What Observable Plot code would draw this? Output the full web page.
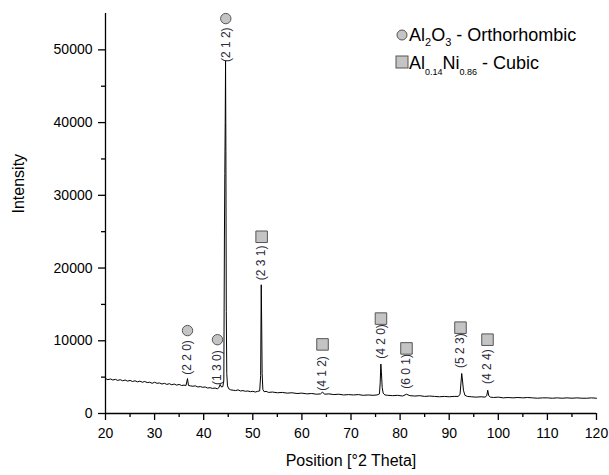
<!DOCTYPE html>
<html>
<head>
<meta charset="utf-8">
<script src="https://cdn.jsdelivr.net/npm/d3@7"></script>
<script src="https://cdn.jsdelivr.net/npm/@observablehq/plot@0.6"></script>
<style>
  body { margin: 0; background: #fff; }
  #chart { position: relative; width: 609px; height: 475px; }
</style>
</head>
<body>
<div id="chart"></div>
<script>
// XRD pattern: 2θ (degrees) and intensity (counts)
const twoTheta = [
  20, 20.5, 21, 21.5, 22, 22.5, 23, 23.5, 24, 24.5, 25, 25.5, 26, 26.5, 27, 27.5, 28, 28.5, 29, 29.5,
  30, 30.5, 31, 31.5, 32, 32.5, 33, 33.5, 34, 34.5, 35, 35.5, 36, 36.4, 36.7, 36.9, 37.3, 37.8, 38.3, 38.8,
  39.3, 39.8, 40.3, 40.8, 41.3, 41.8, 42.3, 42.8, 43.1, 43.35, 43.6, 43.9, 44.1, 44.22, 44.3, 44.38, 44.45, 44.52, 44.6, 44.7,
  44.85, 45.1, 45.5, 46, 46.5, 47, 47.5, 48, 48.5, 49, 49.5, 50, 50.5, 51, 51.4, 51.6, 51.72, 51.8, 51.9, 52.05,
  52.3, 52.7, 53.2, 54, 55, 56, 57, 58, 59, 60, 61, 62, 63, 63.8, 64.2, 64.6, 65.5, 66.5, 67.5, 68.5,
  69.5, 70.5, 71.5, 72.5, 73.5, 74.5, 75.3, 75.8, 75.95, 76.08, 76.2, 76.35, 76.55, 76.9, 77.5, 78.5, 79.5, 80.5, 81.3, 82,
  83, 84, 85, 86, 87, 88, 89, 90, 91, 91.8, 92.2, 92.4, 92.55, 92.7, 92.9, 93.2, 93.7, 94.5, 95.5, 96.5,
  97.3, 97.65, 97.85, 98.05, 98.4, 99, 100, 101, 102, 103, 104, 105, 106, 107, 108, 109, 110, 111, 112, 113,
  114, 115, 116, 117, 118, 119, 120
];
const intensity = [
  4800, 4650, 4750, 4600, 4700, 4550, 4650, 4500, 4600, 4450, 4550, 4400, 4500, 4350, 4450, 4300, 4400, 4250, 4300, 4150,
  4300, 4150, 4200, 4050, 4150, 4000, 4100, 3950, 4050, 3900, 4000, 3850, 3900, 3850, 4800, 3850, 3800, 3750, 3800, 3650,
  3700, 3600, 3650, 3500, 3550, 3450, 3500, 3400, 3550, 4000, 3650, 3700, 4600, 24000, 33000, 40000, 48500, 36000, 14000, 5500,
  3800, 3400, 3250, 3200, 3150, 3250, 3100, 3150, 3050, 3100, 3000, 3050, 2950, 3050, 3100, 5200, 17700, 13000, 5500, 3300,
  3000, 3050, 2900, 2950, 2850, 2900, 2800, 2850, 2750, 2800, 2700, 2750, 2650, 2700, 2950, 2650, 2700, 2600, 2650, 2550,
  2600, 2550, 2600, 2500, 2550, 2500, 2550, 2700, 4300, 6800, 5600, 3600, 2800, 2550, 2500, 2450, 2500, 2400, 2650, 2450,
  2400, 2450, 2350, 2400, 2350, 2300, 2350, 2300, 2350, 2350, 2600, 4200, 5500, 4600, 3200, 2500, 2350, 2300, 2250, 2300,
  2250, 2450, 3200, 2450, 2250, 2200, 2250, 2150, 2200, 2150, 2200, 2150, 2200, 2150, 2100, 2150, 2150, 2100, 2150, 2100,
  2150, 2100, 2150, 2100, 2100, 2150, 2100
];

// Peak annotations (Miller indices)
const peakLabels = ["(2 1 2)", "(2 2 0)", "(1 3 0)", "(2 3 1)", "(4 1 2)", "(4 2 0)", "(6 0 1)", "(5 2 3)", "(4 2 4)"];
const peakPhase  = ["Al2O3", "Al2O3", "Al2O3", "AlNi", "AlNi", "AlNi", "AlNi", "AlNi", "AlNi"];
const peakTheta  = [44.5, 36.7, 42.8, 51.8, 64.2, 76.1, 81.3, 92.3, 97.8];
const labelLevel = [50700, 7700, 6300, 20700, 5500, 9900, 5800, 8650, 6450];
const markLevel  = [54300, 11400, 10150, 24300, 9500, 13050, 8950, 11800, 10150];

const xTicks = [20, 30, 40, 50, 60, 70, 80, 90, 100, 110, 120];
const xMinor = [25, 35, 45, 55, 65, 75, 85, 95, 105, 115];
const yTicks = [0, 10000, 20000, 30000, 40000, 50000];
const yMinor = [5000, 15000, 25000, 35000, 45000];

const pattern = twoTheta.map((t, i) => ({t, v: intensity[i]}));
const peaks = peakLabels.map((lab, i) => ({lab, phase: peakPhase[i], t: peakTheta[i], ly: labelLevel[i], my: markLevel[i]}));

const chart = Plot.plot({
  width: 609,
  height: 475,
  marginLeft: 105,
  marginRight: 13,
  marginTop: 13,
  marginBottom: 62,
  x: {domain: [20, 120]},
  y: {domain: [0, 55000]},
  style: {fontFamily: "'Liberation Sans', Arial, sans-serif", fontSize: "14px", color: "#000", background: "#fff"},
  marks: [
    Plot.line(pattern, {x: "t", y: "v", stroke: "#000", strokeWidth: 1}),
    Plot.ruleX([20], {stroke: "#000", strokeWidth: 1.3}),
    Plot.ruleY([0], {stroke: "#000", strokeWidth: 1.3}),
    Plot.axisX({ticks: xTicks, tickSize: 7, tickPadding: 8, tickFormat: d => String(d), label: null, strokeWidth: 1.3}),
    Plot.axisX({ticks: xMinor, tickSize: 4, tickFormat: () => "", label: null, strokeWidth: 1.3}),
    Plot.axisY({ticks: yTicks, tickSize: 7, tickPadding: 6, tickFormat: d3.format("d"), label: null, strokeWidth: 1.3}),
    Plot.axisY({ticks: yMinor, tickSize: 4, tickFormat: () => "", label: null, strokeWidth: 1.3}),
    Plot.text(["Intensity"], {frameAnchor: "left", dx: -87, rotate: -90, fontSize: 16}),
    Plot.text(["Position [°2 Theta]"], {frameAnchor: "bottom", dy: 52, fontSize: 16}),
    Plot.text(peaks, {x: "t", y: "ly", text: "lab", rotate: -90, fontSize: 12, fill: "#2a2a3a"}),
    Plot.dot(peaks.filter(d => d.phase === "Al2O3"), {x: "t", y: "my", r: 5.2, symbol: "circle", fill: "#c4c4c4", stroke: "#555", strokeWidth: 1}),
    Plot.dot(peaks.filter(d => d.phase === "AlNi"), {x: "t", y: "my", r: 6.5, symbol: "square", fill: "#c4c4c4", stroke: "#555", strokeWidth: 1})
  ]
});

// Legend inside the plot area (top right), with subscripts
const svg = d3.select(chart);
const lg = svg.append("g")
  .attr("font-family", "'Liberation Sans', Arial, sans-serif")
  .attr("font-size", 18)
  .attr("text-anchor", "start")
  .attr("fill", "#000");
lg.append("circle").attr("cx", 402).attr("cy", 35).attr("r", 5).attr("fill", "#c4c4c4").attr("stroke", "#555");
const t1 = lg.append("text").attr("x", 409).attr("y", 41);
t1.append("tspan").text("Al");
t1.append("tspan").attr("font-size", 11).attr("dy", 5).text("2");
t1.append("tspan").attr("dy", -5).text("O");
t1.append("tspan").attr("font-size", 11).attr("dy", 5).text("3");
t1.append("tspan").attr("dy", -5).text(" - Orthorhombic");
lg.append("rect").attr("x", 396).attr("y", 56).attr("width", 12).attr("height", 12).attr("fill", "#c4c4c4").attr("stroke", "#555");
const t2 = lg.append("text").attr("x", 409).attr("y", 69);
t2.append("tspan").text("Al");
t2.append("tspan").attr("font-size", 9).attr("dy", 6).text("0.14");
t2.append("tspan").attr("dy", -6).text("Ni");
t2.append("tspan").attr("font-size", 9).attr("dy", 6).text("0.86");
t2.append("tspan").attr("dy", -6).text(" - Cubic");

document.getElementById("chart").appendChild(chart);
</script>
</body>
</html>
